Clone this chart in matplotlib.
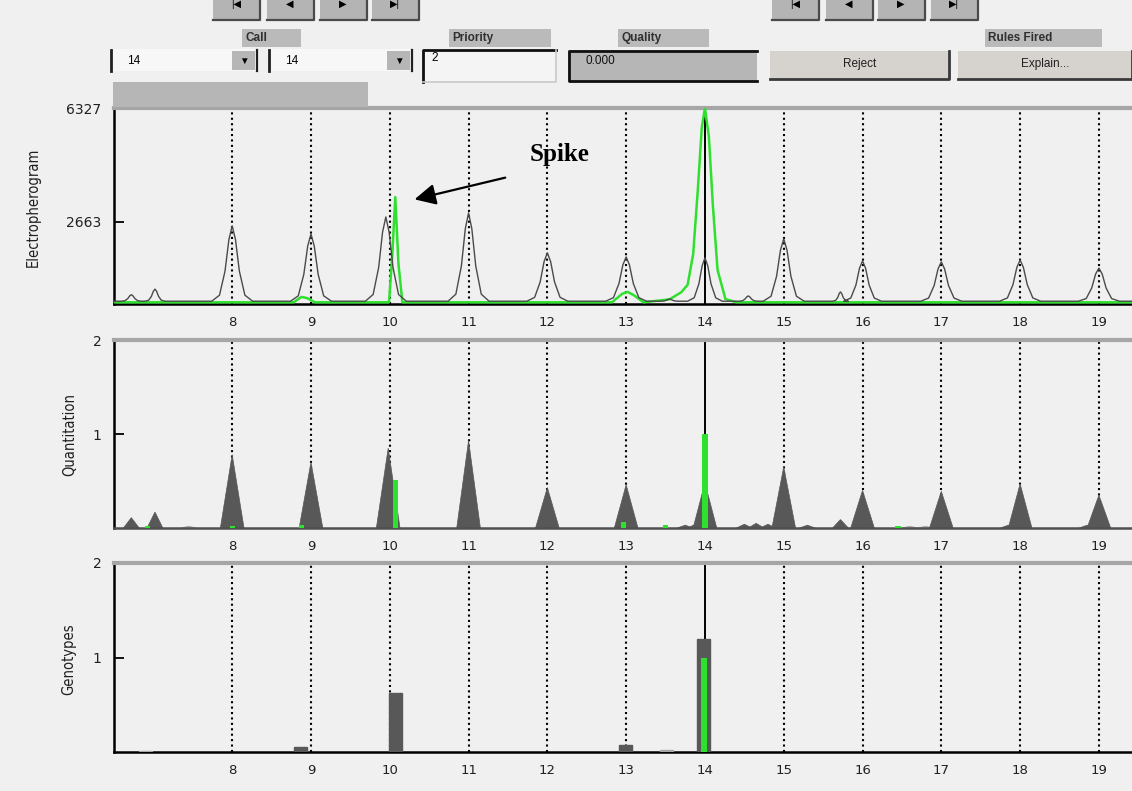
import matplotlib
matplotlib.use("Agg")
import matplotlib.pyplot as plt
from matplotlib.patches import Rectangle, Polygon
from matplotlib.lines import Line2D

plt.rcParams['font.family'] = ['DejaVu Sans']

W, H = 1132, 791
BG = "#f0f0f0"
GREEN = "#2fe02f"
DARK = "#585858"
LIGHT = "#a8a8a8"

# ---------------- data ----------------
alleles = [8, 9, 10, 11, 12, 13, 14, 15, 16, 17, 18, 19]
allele_labels = ["8", "9", "10", "11", "12", "13", "14", "15", "16", "17", "18", "19"]
called_allele = 14

ep_yticks = [2663, 6327]
ep_ytick_labels = ["2663", "6327"]
q_yticks = [1, 2]
q_ytick_labels = ["1", "2"]
g_yticks = [1, 2]
g_ytick_labels = ["1", "2"]

# Electropherogram - sample trace (dark): peak centres, heights, half widths
ep_peak_x = [6.72, 7.02, 8.0, 9.0, 9.95, 11.0, 12.0, 13.0, 13.55, 14.0, 14.55,
             15.0, 15.72, 16.0, 17.0, 18.0, 19.0]
ep_peak_h = [300, 480, 2520, 2260, 2810, 2940, 1650, 1520, 160, 1490, 260,
             2100, 390, 1390, 1360, 1420, 1160]
ep_peak_w = [0.13, 0.13, 0.26, 0.26, 0.26, 0.26, 0.26, 0.26, 0.12, 0.22, 0.12,
             0.26, 0.10, 0.24, 0.26, 0.26, 0.26]
ep_base = 90

# Electropherogram - green trace
green_x = [6.5, 8.78, 8.88, 8.95, 9.05, 9.99, 10.03, 10.07, 10.11, 10.16, 12.82,
           12.95, 13.02, 13.1, 13.22, 13.55, 13.7, 13.78, 13.85, 13.91, 13.96,
           14.0, 14.05, 14.1, 14.16, 14.26, 14.4, 19.42]
green_y = [55, 55, 230, 190, 55, 55, 1500, 3450, 1300, 55, 55,
           330, 390, 280, 55, 150, 380, 620, 1600, 3700, 5700,
           6327, 5400, 3200, 1100, 160, 55, 55]

# Quantitation - grey peaks
q_peak_x = [6.72, 7.02, 7.45, 8.0, 9.0, 9.98, 11.0, 12.0, 13.0, 13.75, 13.88, 14.0,
            14.5, 14.65, 14.8, 15.0, 15.3, 15.72, 16.0, 16.6, 16.8, 17.0, 17.85,
            18.0, 18.85, 19.0]
q_peak_h = [0.11, 0.17, 0.02, 0.78, 0.70, 0.85, 0.93, 0.43, 0.46, 0.03, 0.04, 0.48,
            0.04, 0.05, 0.04, 0.65, 0.03, 0.09, 0.40, 0.02, 0.02, 0.39, 0.03,
            0.47, 0.03, 0.35]
# Quantitation - green bars
q_green_x = [6.92, 8.0, 8.88, 10.07, 12.97, 13.5, 14.0, 16.45]
q_green_h = [0.02, 0.02, 0.03, 0.51, 0.06, 0.03, 1.0, 0.02]

# Genotypes
g_bar_x = [6.9, 8.87, 10.07, 12.99, 13.51, 13.98]
g_bar_h = [0.01, 0.05, 0.62, 0.07, 0.02, 1.20]
g_green_x = [13.99]
g_green_h = [1.0]

# ---------------- figure ----------------
fig = plt.figure(figsize=(W / 100, H / 100), dpi=100, facecolor=BG)


def px_axes(left, top, right, bottom):
    return fig.add_axes([left / W, 1 - bottom / H, (right - left) / W, (bottom - top) / H])


def style(ax, ylim, yticks, ylabels):
    ax.set_facecolor(BG)
    ax.set_xlim(6.5, 19.42)
    ax.set_ylim(*ylim)
    ax.set_xticks(alleles, allele_labels)
    ax.set_yticks(yticks, ylabels)
    ax.tick_params(axis='x', length=0, pad=9, labelsize=9.5, labelcolor='#202020')
    ax.tick_params(axis='y', direction='in', length=7, width=1.3, pad=9,
                   labelsize=10, labelcolor='#202020')
    ax.spines['right'].set_visible(False)
    ax.spines['top'].set_color('#a6a6a6')
    ax.spines['top'].set_linewidth(3)
    ax.spines['left'].set_linewidth(1.8)
    ax.spines['bottom'].set_linewidth(1.8)
    for a in alleles:
        if a == called_allele:
            ax.axvline(a, color='black', lw=1.4, zorder=1)
        else:
            ax.axvline(a, color='black', lw=1.5, ls=(0, (1, 1.6)), zorder=1)


ax1 = px_axes(114, 108, 1132, 304)
ax2 = px_axes(114, 340, 1132, 528)
ax3 = px_axes(114, 563, 1132, 752)

# ---- panel 1: electropherogram ----
style(ax1, (0, 6327), ep_yticks, ep_ytick_labels)
shape_dx = [-1.0, -0.62, -0.35, -0.16, 0.0, 0.16, 0.35, 0.62, 1.0]
shape_f = [0.0, 0.08, 0.4, 0.82, 1.0, 0.82, 0.4, 0.08, 0.0]
tx, ty = [6.5], [ep_base]
for cx, h, w in zip(ep_peak_x, ep_peak_h, ep_peak_w):
    for dx, f in zip(shape_dx, shape_f):
        tx.append(cx + dx * w)
        ty.append(ep_base + (h - ep_base) * f)
tx.append(19.42)
ty.append(ep_base)
ax1.plot(green_x, green_y, color=GREEN, lw=1.8, zorder=3)
ax1.plot(tx, ty, color='#4a4a4a', lw=1.0, zorder=4)
ax1.annotate("", xy=(10.28, 3357), xytext=(11.5, 4100),
             arrowprops=dict(arrowstyle='-|>', color='black', lw=1.6, mutation_scale=32),
             zorder=6)
ax1.text(12.15, 4810, "Spike", fontsize=18, fontweight='bold',
         family=['Liberation Serif', 'DejaVu Serif'], ha='center', va='center', zorder=6)

# ---- panel 2: quantitation ----
style(ax2, (0, 2), q_yticks, q_ytick_labels)
ax2.spines['bottom'].set_color('#505050')
for cx, h in zip(q_peak_x, q_peak_h):
    w = 0.15 if h >= 0.2 else 0.1
    col = DARK if h >= 0.03 else LIGHT
    ax2.add_patch(Polygon([(cx - w, 0), (cx, h), (cx + w, 0)], closed=True,
                          facecolor=col, edgecolor=col, lw=0.5, zorder=2))
ax2.bar(q_green_x, q_green_h, width=0.065, color=GREEN, zorder=3)

# ---- panel 3: genotypes ----
style(ax3, (0, 2), g_yticks, g_ytick_labels)
g_cols = [DARK if h >= 0.04 else LIGHT for h in g_bar_h]
ax3.bar(g_bar_x, g_bar_h, width=0.17, color=g_cols, edgecolor=g_cols, zorder=3)
ax3.bar(g_green_x, g_green_h, width=0.07, color=GREEN, zorder=4)

# y labels
cond = dict(rotation=90, ha='center', va='center', fontsize=10.5, color='#202020',
            fontstretch='condensed')
fig.text(33 / W, 1 - 207 / H, "Electropherogram", **cond)
fig.text(70 / W, 1 - 434 / H, "Quantitation", **cond)
fig.text(69 / W, 1 - 659 / H, "Genotypes", **cond)

# ---------------- GUI widgets on top ----------------


def box(x0, y0, x1, y1, fc, z=5):
    fig.add_artist(Rectangle((x0 / W, 1 - y1 / H), (x1 - x0) / W, (y1 - y0) / H,
                             transform=fig.transFigure, facecolor=fc,
                             edgecolor='none', zorder=z))


def line(xs, ys, color, lw, z=6):
    fig.add_artist(Line2D([x / W for x in xs], [1 - y / H for y in ys],
                          transform=fig.transFigure, color=color, lw=lw, zorder=z))


def label(x, y, s, **kw):
    kw.setdefault('fontsize', 8.5)
    kw.setdefault('color', '#202020')
    kw.setdefault('va', 'center')
    fig.text(x / W, 1 - y / H, s, family=['Liberation Sans', 'DejaVu Sans'], zorder=7, **kw)


# navigation buttons
nav_glyphs = ["|◀", "◀", "▶", "▶|"]
for group in ([213, 267, 320, 372], [772, 826, 878, 931]):
    for x, g in zip(group, nav_glyphs):
        box(x, -2, x + 47, 20, '#b4b4b4')
        line([x + 47, x + 47, x], [-2, 20, 20], '#4a4a4a', 1.6)
        label(x + 23, 4, g, fontsize=7, ha='center', color='black')

# header labels
for x0, x1, txt in [(242, 301, "Call"), (449, 551, "Priority"),
                    (618, 709, "Quality"), (985, 1102, "Rules Fired")]:
    box(x0, 29, x1, 47, '#bababa')
    label(x0 + 3, 38, txt, ha='left', fontweight='bold', color='#303030')

# dropdowns
for x0, x1 in [(110, 257), (268, 412)]:
    box(x0, 49, x1, 71, '#f7f7f7')
    line([x0 + 1, x0 + 1], [50, 71], '#202020', 2)
    line([x1, x1], [50, 71], '#202020', 1.6)
    box(x1 - 25, 51, x1 - 2, 70, '#b6b6b6')
    label(x1 - 13.5, 61, "▼", fontsize=7, ha='center', color='black')
    label(x0 + 17, 61, "14", ha='left', color='black')

# priority box
box(422, 49, 556, 82, '#f4f4f4')
line([423, 423, 556], [82, 50, 50], '#101010', 2)
line([423, 556, 556], [82, 82, 50], '#c8c8c8', 1.2)
label(431, 58, "2", ha='left', color='black')

# quality box
box(568, 50, 757, 82, '#b6b6b6')
line([757, 569, 569, 757], [51, 51, 81, 81], '#101010', 2)
label(585, 61, "0.000", ha='left', color='#101010')

# buttons
for x0, x1, txt in [(770, 949, "Reject"), (958, 1132, "Explain...")]:
    box(x0, 51, x1, 79, '#d6d2ce')
    line([x0, x1, x1], [79, 79, 51], '#3a3a3a', 2)
    label((x0 + x1) / 2, 64, txt, ha='center', color='#202020')

# grey bar above electropherogram
box(113, 82, 368, 107, '#b6b6b6')

fig.savefig("out.png", dpi=100, facecolor=BG)
